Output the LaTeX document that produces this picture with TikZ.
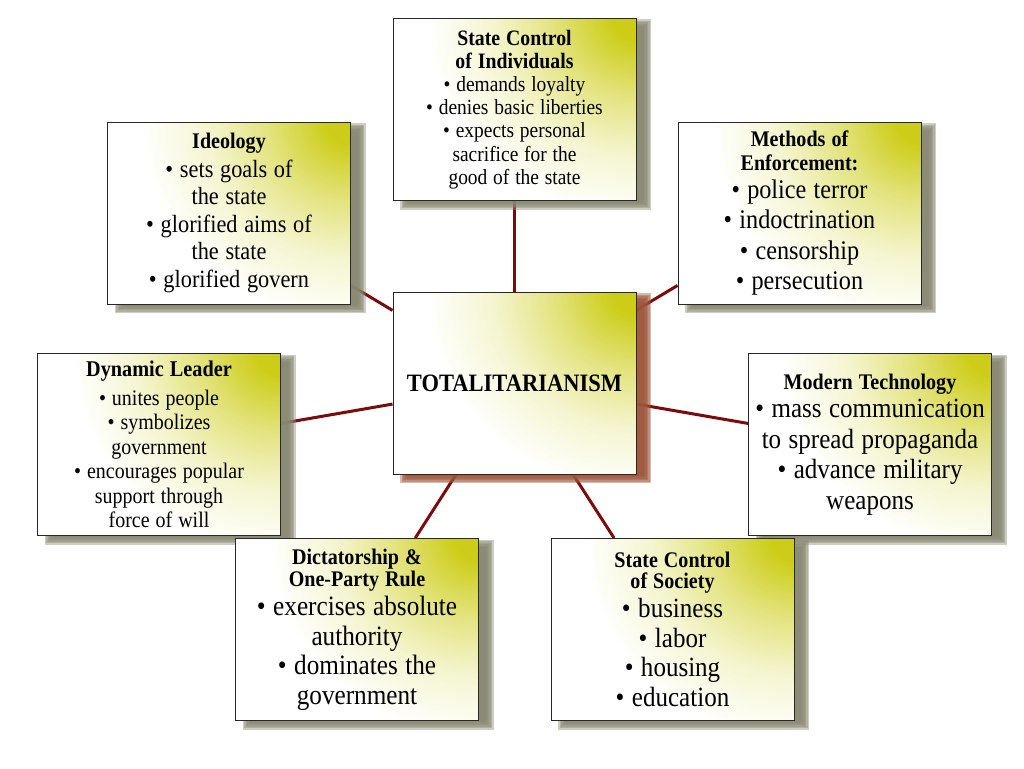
\documentclass[tikz,border=0pt]{standalone}
\usepackage{fontspec}
\setmainfont{Liberation Serif}[FakeStretch=0.9]
\usetikzlibrary{backgrounds}
\definecolor{glow}{RGB}{205,205,25}
\definecolor{lnk}{RGB}{122,12,12}
\definecolor{shgray}{RGB}{136,136,114}
\definecolor{shbrown}{RGB}{158,86,58}
\definecolor{edgecol}{RGB}{40,40,40}
\pgfdeclareradialshading{cornerglow}{\pgfpoint{0bp}{0bp}}{color(0bp)=(glow); color(2bp)=(glow); color(7bp)=(glow!55!white); color(12bp)=(glow!20!white); color(17.5bp)=(white); color(50bp)=(white)}
\newcommand{\fs}[2]{\fontsize{#1}{#2}\selectfont\spaceskip=\dimexpr #1pt*27/100\relax}
\newcommand{\softshadow}[2]{%
  \foreach \d in {0,1.5,3,4.5,6,7.5}{%
    \fill[#2, opacity=0.42] ([xshift={15pt-\d pt}, yshift={-1pt-\d pt}]#1.south west) rectangle ([xshift={7pt+\d pt}, yshift={-9pt+\d pt}]#1.north east);
  }%
}
\tikzset{
  box/.style={draw=edgecol, line width=1pt, fill=white, inner sep=0pt,
    text width=243pt, minimum height=182pt, align=center,
    path picture={\shade[shading=cornerglow] (path picture bounding box.north east) ellipse [x radius=300pt, y radius=285pt];}},
  link/.style={draw=lnk, line width=3pt},
}
\begin{document}
\begin{tikzpicture}[x=1pt,y=-1pt]
\useasboundingbox (0,0) rectangle (1024,768);

\node[box] (ind) at (514.5,109.5) {{\fs{22}{23}\bfseries State Control\\ of Individuals\par}{\fs{21.6}{23.2}• demands loyalty\\ • denies basic liberties\\ • expects personal\\ sacrifice for the\\ good of the state\par}};

\node[box] (ideo) at (229,213) {{\fs{22.3}{23}\bfseries Ideology\par}\vspace{1pt}{\fs{24.8}{27.5}• sets goals of\\ the state\\ • glorified aims of\\ the state\\ • glorified govern\par}};

\node[box] (meth) at (799.5,213) {{\fs{22.3}{24}\bfseries Methods of\\ Enforcement:\par}\vspace{-2.5pt}{\fs{26.9}{30.5}• police terror\\ • indoctrination\\ • censorship\\ • persecution\par}};

\node[box] (cen) at (514.5,383) {{\fs{25}{26}\bfseries TOTALITARIANISM}};

\node[box] (dyn) at (159,444.5) {{\fs{22.5}{24.5}\bfseries Dynamic Leader\par}\vspace{4pt}{\fs{22.2}{24.5}• unites people\\ • symbolizes\\ government\\ • encourages popular\\ support through\\ force of will\par}};

\node[box] (tech) at (870,444.5) {{\fs{22.3}{24}\bfseries Modern Technology\par}\vspace{-2pt}{\fs{27.8}{30.5}• mass communication\\ to spread propaganda\\ • advance military\\ weapons\par}};

\node[box] (dict) at (357,629.5) {{\fs{22.3}{22}\bfseries Dictatorship \&\\ One-Party Rule\par}{\fs{28}{29.5}• exercises absolute\\ authority\\ • dominates the\\ government\par}};

\node[box] (soc) at (672.5,629.5) {{\fs{22.3}{20.5}\bfseries State Control\\ of Society\par}{\fs{27.8}{29.5}• business\\ • labor\\ • housing\\ • education\par}};

\begin{pgfonlayer}{background}
\fill[white] (0,0) rectangle (1024,768);
\draw[link] (cen) -- (ind);
\draw[link] (cen) -- (ideo);
\draw[link] (cen) -- (meth);
\draw[link] (cen) -- (dyn);
\draw[link] (cen) -- (tech);
\draw[link] (cen) -- (dict);
\draw[link] (cen) -- (soc);
\softshadow{ind}{shgray}
\softshadow{ideo}{shgray}
\softshadow{meth}{shgray}
\softshadow{dyn}{shgray}
\softshadow{tech}{shgray}
\softshadow{dict}{shgray}
\softshadow{soc}{shgray}
\softshadow{cen}{shbrown}
\end{pgfonlayer}
\end{tikzpicture}
\end{document}
